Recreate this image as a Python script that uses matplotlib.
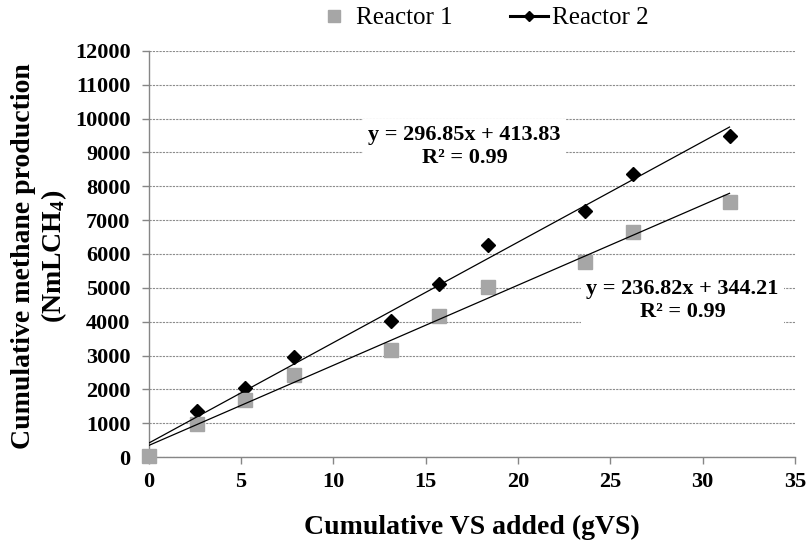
import matplotlib
matplotlib.use("Agg")
import matplotlib.pyplot as plt
import numpy as np
from matplotlib.lines import Line2D

plt.rcParams['font.family'] = ['Liberation Serif', 'DejaVu Serif']
plt.rcParams['mathtext.fontset'] = 'custom'
plt.rcParams['mathtext.rm'] = 'Liberation Serif:bold'
plt.rcParams['mathtext.bf'] = 'Liberation Serif:bold'
plt.rcParams['mathtext.default'] = 'bf'

# Cumulative VS added (gVS)
vs_r1 = [0, 2.6, 5.2, 7.85, 13.1, 15.7, 18.35, 23.6, 26.2, 31.45]
vs_r2 = [0, 2.6, 5.2, 7.85, 13.1, 15.7, 18.35, 23.6, 26.2, 31.45]
# Cumulative methane production (NmLCH4)
ch4_r1 = [30, 980, 1690, 2420, 3160, 4170, 5030, 5760, 6650, 7540]
ch4_r2 = [30, 1360, 2040, 2960, 4020, 5110, 6270, 7270, 8370, 9490]

# Linear trendline coefficients (slope, intercept)
fit_r1 = (236.82, 344.21)
fit_r2 = (296.85, 413.83)
eq_r1 = "y = 236.82x + 344.21\nR² = 0.99"
eq_r2 = "y = 296.85x + 413.83\nR² = 0.99"

x_ticks = [0, 5, 10, 15, 20, 25, 30, 35]
y_ticks = list(range(0, 12001, 1000))

gray = '#A6A6A6'
axis_gray = '#868686'

fig = plt.figure(figsize=(8.08, 5.41), dpi=100)
ax = fig.add_axes([0.184, 0.155, 0.8, 0.751])

ax.set_xlim(0, 35)
ax.set_ylim(0, 12000)
ax.set_xticks(x_ticks)
ax.set_yticks(y_ticks)

ax.yaxis.grid(True, color='#8C8C8C', linestyle=(0, (2, 1)), linewidth=0.8)
ax.set_axisbelow(True)

for s in ('top', 'right'):
    ax.spines[s].set_visible(False)
for s in ('left', 'bottom'):
    ax.spines[s].set_color(axis_gray)
    ax.spines[s].set_linewidth(1.0)

ax.tick_params(axis='both', colors=axis_gray, length=5, width=1.0,
               labelcolor='black', labelsize=16)
for lab in ax.get_xticklabels() + ax.get_yticklabels():
    lab.set_fontweight('bold')
ax.tick_params(axis='x', pad=6)
ax.tick_params(axis='y', pad=8)

# markers
ax.plot(vs_r2, ch4_r2, linestyle='none', marker='D', color='black',
        markersize=7, zorder=3, clip_on=False)
ax.plot(vs_r1, ch4_r1, linestyle='none', marker='s', color=gray,
        markersize=10, zorder=4, clip_on=False)

# trendlines
xs1 = np.array([0, max(vs_r1)])
xs2 = np.array([0, max(vs_r2)])
ax.plot(xs1, fit_r1[0] * xs1 + fit_r1[1], color='black', linewidth=0.9, zorder=5)
ax.plot(xs2, fit_r2[0] * xs2 + fit_r2[1], color='black', linewidth=0.9, zorder=5)

ax.text(17.1, 9180, eq_r2, ha='center', va='center', ma='center',
        fontsize=16, fontweight='bold', linespacing=1.2, zorder=6,
        bbox=dict(facecolor='white', edgecolor='none', pad=4))
ax.text(28.9, 4630, eq_r1, ha='center', va='center', ma='center',
        fontsize=16, fontweight='bold', linespacing=1.2, zorder=6,
        bbox=dict(facecolor='white', edgecolor='none', pad=4))

fig.text(0.584, 1 - 527 / 541, 'Cumulative VS added (gVS)', fontsize=20,
         fontweight='bold', ha='center', va='center')
fig.text(0.049, 1 - 256 / 541, 'Cumulative methane production\n(NmLCH$_4$)',
         fontsize=20, fontweight='bold', ha='center', va='center',
         ma='center', rotation=90, linespacing=1.15)

handles = [
    Line2D([], [], linestyle='none', marker='s', color=gray, markersize=9),
    Line2D([], [], color='black', linewidth=2.2, marker='D', markersize=5.5),
]
fig.legend(handles, ['Reactor 1', 'Reactor 2'], loc='center',
           bbox_to_anchor=(0.596, 1 - 18 / 541), ncol=2, frameon=False,
           fontsize=18, handlelength=1.5, handletextpad=0.15,
           columnspacing=2.3, borderpad=0)

fig.savefig('out.png', dpi=100)
